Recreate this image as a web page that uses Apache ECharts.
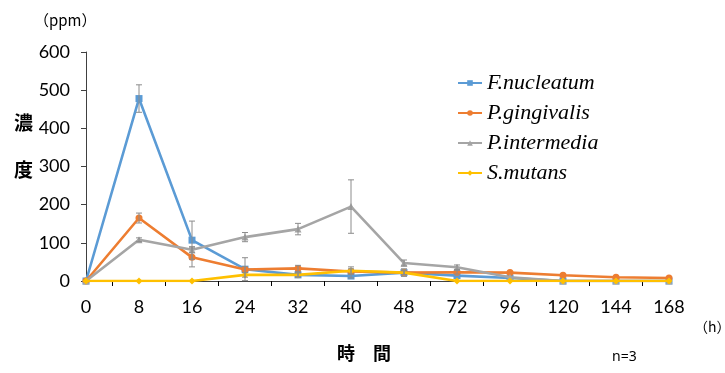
<!DOCTYPE html>
<html>
<head>
<meta charset="utf-8">
<script src="https://cdn.jsdelivr.net/npm/echarts@6/dist/echarts.min.js"></script>
<style>html,body{margin:0;padding:0;background:#fff}#c{width:725px;height:373px}</style>
</head>
<body>
<div id="c"></div>
<script>
var categories = ['0','8','16','24','32','40','48','72','96','120','144','168'];
var seriesNames = ['F.nucleatum','P.gingivalis','P.intermedia','S.mutans'];
var fnucleatum = [0, 478, 107, 31, 16, 13, 22, 14, 8, 0, 0, 0];
var pgingivalis = [0, 165, 62, 30, 33, 25, 22, 23, 22, 15, 10, 8];
var pintermedia = [0, 108, 82, 115, 136, 195, 47, 36, 10, 0, 0, 0];
var smutans = [0, 0, 0, 16, 16, 27, 22, 0, 0, 0, 0, 0];
var fnErr = [0, 36, 50, 30, 5, 5, 5, 0, 0, 0, 0, 0];
var pgErr = [0, 13, 25, 8, 8, 7, 5, 5, 0, 0, 0, 0];
var piErr = [0, 5, 8, 12, 15, 70, 8, 6, 0, 0, 0, 0];
var smErr = [0, 0, 0, 6, 6, 10, 10, 0, 0, 0, 0, 0];
var yTicks = [0, 100, 200, 300, 400, 500, 600];

var colors = ['#5B9BD5', '#ED7D31', '#A5A5A5', '#FFC000'];
var symbols = ['rect', 'circle', 'triangle', 'diamond'];
var symSizes = [7, 7, 7, 7];
var values = [fnucleatum, pgingivalis, pintermedia, smutans];
var errs = [fnErr, pgErr, piErr, smErr];

var chart = echarts.init(document.getElementById('c'), null, {renderer: 'canvas'});

var series = [];
values.forEach(function (vals, s) {
  series.push({
    name: seriesNames[s], type: 'line', data: vals, xAxisIndex: 0,
    symbol: symbols[s], symbolSize: symSizes[s], showAllSymbol: true,
    lineStyle: {color: colors[s], width: 2.6},
    itemStyle: {color: colors[s]},
    z: 3 + s * 0.1, animation: false
  });
});
values.forEach(function (vals, s) {
  var d = [];
  vals.forEach(function (v, i) {
    if (errs[s][i] > 0) d.push([i, Math.max(0, v - errs[s][i]), v + errs[s][i]]);
  });
  series.push({
    type: 'custom', xAxisIndex: 0, z: 5, animation: false, silent: true,
    data: d,
    renderItem: function (params, api) {
      var lo = api.coord([api.value(0), api.value(1)]);
      var hi = api.coord([api.value(0), api.value(2)]);
      var w = 3;
      var st = {stroke: '#8C8C8C', lineWidth: 1};
      return {type: 'group', children: [
        {type: 'line', shape: {x1: lo[0], y1: lo[1], x2: hi[0], y2: hi[1]}, style: st},
        {type: 'line', shape: {x1: lo[0] - w, y1: lo[1], x2: lo[0] + w, y2: lo[1]}, style: st},
        {type: 'line', shape: {x1: hi[0] - w, y1: hi[1], x2: hi[0] + w, y2: hi[1]}, style: st}
      ]};
    }
  });
});

var option = {
  backgroundColor: '#ffffff',
  animation: false,
  grid: {left: 86, right: 56, top: 52, bottom: 92, containLabel: false},
  legend: {
    data: seriesNames,
    orient: 'vertical', left: 452, top: 67,
    itemWidth: 24, itemHeight: 7, itemGap: 8,
    textStyle: {fontFamily: 'Liberation Serif', fontStyle: 'italic', fontSize: 22, color: '#000'}
  },
  xAxis: [{
    type: 'category', data: categories, boundaryGap: false,
    axisLine: {lineStyle: {color: '#404040', width: 1}},
    axisTick: {show: false},
    axisLabel: {color: '#000', fontSize: 18, fontFamily: 'Lato', margin: 17}
  }, {
    type: 'category', data: categories.slice(1), boundaryGap: true, position: 'bottom',
    axisLine: {show: false},
    axisTick: {show: true, alignWithLabel: true, length: 5, lineStyle: {color: '#000'}},
    axisLabel: {show: false}
  }],
  yAxis: {
    type: 'value', min: yTicks[0], max: yTicks[yTicks.length - 1], interval: 100,
    axisLine: {show: true, lineStyle: {color: '#404040', width: 1}},
    axisTick: {show: true, length: 5, lineStyle: {color: '#404040'}},
    splitLine: {show: false},
    axisLabel: {color: '#000', fontSize: 18, fontFamily: 'Lato', margin: 16}
  },
  graphic: [
    {type: 'text', left: 34, top: 13, style: {text: '（ppm）', fontSize: 15, fontFamily: 'Noto Sans CJK JP', fill: '#000'}},
    {type: 'text', left: 14, top: 113, style: {text: '濃', fontSize: 19, fontWeight: 'bold', fontFamily: 'Noto Sans CJK JP', fill: '#000'}},
    {type: 'text', left: 14, top: 160, style: {text: '度', fontSize: 19, fontWeight: 'bold', fontFamily: 'Noto Sans CJK JP', fill: '#000'}},
    {type: 'text', left: 694, top: 320, style: {text: '（h）', fontSize: 14, fontFamily: 'Noto Sans CJK JP', fill: '#000'}},
    {type: 'text', left: 337, top: 344, style: {text: '時　間', fontSize: 18, fontWeight: 'bold', fontFamily: 'Noto Sans CJK JP', fill: '#000'}},
    {type: 'text', left: 612, top: 350, style: {text: 'n=3', fontSize: 14, fontFamily: 'Noto Sans', fill: '#000'}}
  ],
  series: series
};
chart.setOption(option);
</script>
</body>
</html>
